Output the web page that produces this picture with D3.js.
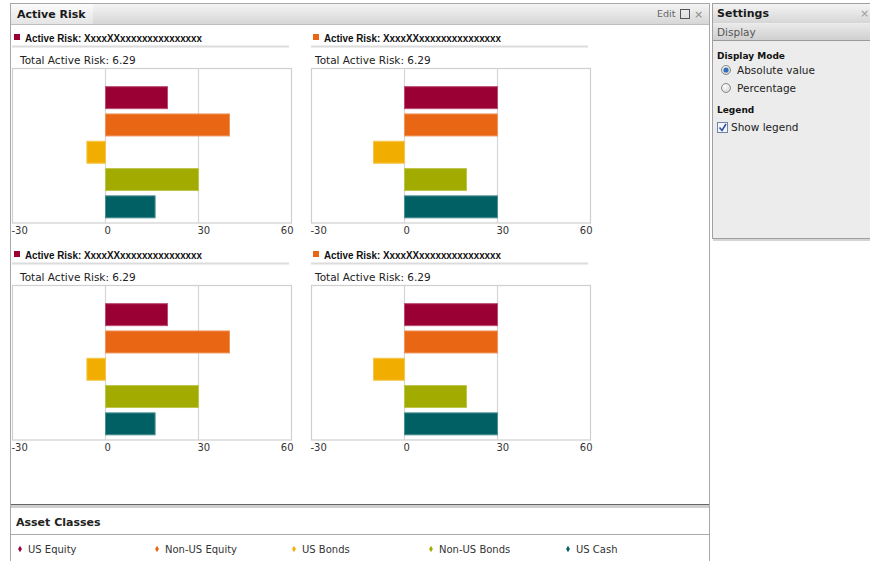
<!DOCTYPE html>
<html>
<head>
<meta charset="utf-8">
<script src="https://cdn.jsdelivr.net/npm/d3@7/dist/d3.min.js"></script>
<style>
  html, body { margin: 0; padding: 0; background: #fff; }
  svg { display: block; font-family: "DejaVu Sans", Verdana, sans-serif; }
</style>
</head>
<body>
<svg id="page" width="870" height="561"></svg>
<script>
// Asset classes and their colours
const categories = ["US Equity", "Non-US Equity", "US Bonds", "Non-US Bonds", "US Cash"];
const classColors = ["#9b0034", "#e86614", "#f2ae00", "#a2ac00", "#006064"];

// One entry per chart tile (row-major: top-left, top-right, bottom-left, bottom-right)
const chartTitles = [
  "Active Risk: XxxxXXxxxxxxxxxxxxxxx",
  "Active Risk: XxxxXXxxxxxxxxxxxxxxx",
  "Active Risk: XxxxXXxxxxxxxxxxxxxxx",
  "Active Risk: XxxxXXxxxxxxxxxxxxxxx"
];
const titleMarkerColors = ["#9b0034", "#e86614", "#9b0034", "#e86614"];
const totalActiveRisk = [6.29, 6.29, 6.29, 6.29];
const seriesValues = [
  [20, 40, -6, 30, 16],
  [30, 30, -10, 20, 30],
  [20, 40, -6, 30, 16],
  [30, 30, -10, 20, 30]
];
const xDomain = [-30, 60];
const tickValues = [-30, 0, 30, 60];
const gridValues = [0, 30];

const svg = d3.select("#page");
const defs = svg.append("defs");

function vGradient(id, stops) {
  const g = defs.append("linearGradient").attr("id", id)
    .attr("x1", 0).attr("y1", 0).attr("x2", 0).attr("y2", 1);
  stops.forEach(([o, c]) => g.append("stop").attr("offset", o).attr("stop-color", c));
}
vGradient("barGrad", [[0, "#f4f4f4"], [1, "#d6d6d6"]]);
vGradient("tabGrad", [[0, "#fbfbfb"], [1, "#e4e4e4"]]);
vGradient("subGrad", [[0, "#e9e9e9"], [1, "#cfcfcf"]]);
const rg = defs.append("radialGradient").attr("id", "radioGrad").attr("cx", 0.4).attr("cy", 0.35).attr("r", 0.7);
rg.append("stop").attr("offset", 0).attr("stop-color", "#ffffff");
rg.append("stop").attr("offset", 1).attr("stop-color", "#d0d0d0");

// ---------- main "Active Risk" window ----------
const main = svg.append("g");
main.append("rect").attr("x", 10.5).attr("y", 3.5).attr("width", 699).attr("height", 560)
  .attr("fill", "#fff").attr("stroke", "#a8a8a8");
main.append("rect").attr("x", 11).attr("y", 4).attr("width", 698).attr("height", 20)
  .attr("fill", "url(#barGrad)");
main.append("rect").attr("x", 11).attr("y", 4).attr("width", 82).attr("height", 20)
  .attr("fill", "url(#tabGrad)");
main.append("line").attr("x1", 11).attr("x2", 709).attr("y1", 24.5).attr("y2", 24.5)
  .attr("stroke", "#bdbdbd");
main.append("text").attr("x", 17).attr("y", 18).attr("font-size", 11).attr("font-weight", "bold")
  .attr("fill", "#1a1a1a").text("Active Risk");
main.append("text").attr("x", 657).attr("y", 17).attr("font-size", 9.5).attr("fill", "#666").text("Edit");
main.append("rect").attr("x", 680.5).attr("y", 9.5).attr("width", 9).attr("height", 9)
  .attr("fill", "none").attr("stroke", "#555");
main.append("text").attr("x", 694).attr("y", 18).attr("font-size", 11).attr("fill", "#888").text("×");

// ---------- chart tiles ----------
const colX = [12, 311];
const rowY = [28, 245];
const plotW = 279, plotH = 154.5, plotTop = 40.5;

seriesValues.forEach((vals, i) => {
  const col = i % 2, row = Math.floor(i / 2);
  const g = svg.append("g").attr("transform", `translate(${colX[col]},${rowY[row]})`);

  g.append("rect").attr("x", 2).attr("y", 6).attr("width", 6).attr("height", 6)
    .attr("fill", titleMarkerColors[i]);
  g.append("text").attr("x", 13).attr("y", 13.5).attr("font-family", "Liberation Sans, Arial, sans-serif")
    .attr("font-size", 11).attr("font-weight", "bold").attr("fill", "#111")
    .attr("textLength", 177).attr("lengthAdjust", "spacingAndGlyphs")
    .text(chartTitles[i]);
  g.append("line").attr("x1", 0).attr("x2", 277).attr("y1", 18.5).attr("y2", 18.5)
    .attr("stroke", "#dcdcdc").attr("stroke-width", 2);
  g.append("text").attr("x", col === 0 ? 8 : 4).attr("y", 36).attr("font-size", 10.5)
    .attr("fill", "#222").text("Total Active Risk: " + totalActiveRisk[i].toFixed(2));

  const x = d3.scaleLinear().domain(xDomain).range([0, plotW]);
  const y = d3.scaleBand().domain(categories).range([plotTop + 15.5, plotTop + plotH - 2.5])
    .paddingInner(0.195).paddingOuter(0.0975);

  // plot frame and vertical grid lines
  g.append("rect").attr("x", 0.5).attr("y", plotTop).attr("width", plotW).attr("height", plotH)
    .attr("fill", "#fff").attr("stroke", "#cfcfcf").attr("stroke-width", 1.2);
  g.selectAll("line.grid").data(gridValues).join("line").attr("class", "grid")
    .attr("x1", d => x(d) + 0.5).attr("x2", d => x(d) + 0.5)
    .attr("y1", plotTop).attr("y2", plotTop + plotH)
    .attr("stroke", "#d6d6d6").attr("stroke-width", 1.2);

  // bars, each with a faint lighter edge
  g.selectAll("rect.bar").data(vals).join("rect").attr("class", "bar")
    .attr("x", d => x(Math.min(0, d)) + 0.5)
    .attr("width", d => Math.abs(x(d) - x(0)))
    .attr("y", (d, k) => y(categories[k]))
    .attr("height", y.bandwidth())
    .attr("fill", (d, k) => classColors[k])
    .attr("stroke", (d, k) => d3.interpolateRgb(classColors[k], "#ffffff")(0.3))
    .attr("stroke-width", 1);

  // x axis labels
  const axis = d3.axisBottom(x).tickValues(tickValues).tickSize(0).tickPadding(0)
    .tickFormat(d => String(d));
  const ax = g.append("g").attr("transform", `translate(0,${plotTop + plotH})`).call(axis);
  ax.select(".domain").remove();
  ax.selectAll("text")
    .attr("font-family", "DejaVu Sans, Verdana, sans-serif")
    .attr("font-size", 10).attr("fill", "#333")
    .attr("dy", 0).attr("y", 11)
    .attr("text-anchor", (d, k) => k === tickValues.length - 1 ? "end" : "start")
    .attr("dx", (d, k) => k === tickValues.length - 1 ? 2 : -1);
});

// ---------- legend strip ----------
const leg = svg.append("g");
leg.append("line").attr("x1", 11).attr("x2", 709).attr("y1", 504.5).attr("y2", 504.5).attr("stroke", "#666");
leg.append("rect").attr("x", 11).attr("y", 505).attr("width", 698).attr("height", 3).attr("fill", "#cfcfcf");
leg.append("text").attr("x", 16).attr("y", 526).attr("font-size", 11).attr("font-weight", "bold")
  .attr("fill", "#222").text("Asset Classes");
leg.append("line").attr("x1", 11).attr("x2", 709).attr("y1", 534.5).attr("y2", 534.5).attr("stroke", "#aaa");
const diamond = d3.symbol().type(d3.symbolDiamond).size(12);
const item = leg.selectAll("g.item").data(categories).join("g").attr("class", "item")
  .attr("transform", (d, k) => `translate(${20 + k * 137},549)`);
item.append("path").attr("d", diamond).attr("fill", (d, k) => classColors[k]);
item.append("text").attr("x", 8).attr("y", 3.5).attr("font-size", 10).attr("fill", "#333").text(d => d);

// ---------- settings side panel ----------
const set = svg.append("g");
set.append("rect").attr("x", 712.5).attr("y", 3.5).attr("width", 160).attr("height", 235)
  .attr("fill", "#ececec").attr("stroke", "#a0a0a0");
set.append("line").attr("x1", 713).attr("x2", 870).attr("y1", 240).attr("y2", 240)
  .attr("stroke", "#d4d4d4").attr("stroke-width", 2);
set.append("rect").attr("x", 713).attr("y", 4).attr("width", 157).attr("height", 19).attr("fill", "url(#barGrad)");
set.append("text").attr("x", 717).attr("y", 17).attr("font-size", 11).attr("font-weight", "bold")
  .attr("fill", "#1a1a1a").text("Settings");
set.append("text").attr("x", 860).attr("y", 17).attr("font-size", 11).attr("fill", "#999").text("×");
set.append("rect").attr("x", 713).attr("y", 24).attr("width", 157).attr("height", 16).attr("fill", "url(#subGrad)");
set.append("line").attr("x1", 713).attr("x2", 870).attr("y1", 40.5).attr("y2", 40.5).attr("stroke", "#9a9a9a");
set.append("text").attr("x", 717).attr("y", 36).attr("font-size", 10.5).attr("fill", "#555").text("Display");

set.append("text").attr("x", 717).attr("y", 59).attr("font-size", 9).attr("font-weight", "bold")
  .attr("fill", "#111").text("Display Mode");
const modes = ["Absolute value", "Percentage"];
const radio = set.selectAll("g.radio").data(modes).join("g").attr("class", "radio")
  .attr("transform", (d, k) => `translate(726,${70 + k * 18})`);
radio.append("circle").attr("r", 4.5).attr("fill", "url(#radioGrad)").attr("stroke", "#8a8a8a");
radio.filter((d, k) => k === 0).append("circle").attr("r", 2.6).attr("fill", "#2f6fb8");
radio.append("text").attr("x", 11).attr("y", 4).attr("font-size", 10.5).attr("fill", "#222").text(d => d);

set.append("text").attr("x", 717).attr("y", 113).attr("font-size", 9).attr("font-weight", "bold")
  .attr("fill", "#111").text("Legend");
set.append("rect").attr("x", 717.5).attr("y", 122.5).attr("width", 10).attr("height", 10)
  .attr("fill", "#f4f6fa").attr("stroke", "#6f84a8");
set.append("path").attr("d", "M719.5,127.5 L722,130.5 L726,124")
  .attr("fill", "none").attr("stroke", "#2f4fa0").attr("stroke-width", 1.6);
set.append("text").attr("x", 731).attr("y", 131).attr("font-size", 10.5).attr("fill", "#222").text("Show legend");
</script>
</body>
</html>
